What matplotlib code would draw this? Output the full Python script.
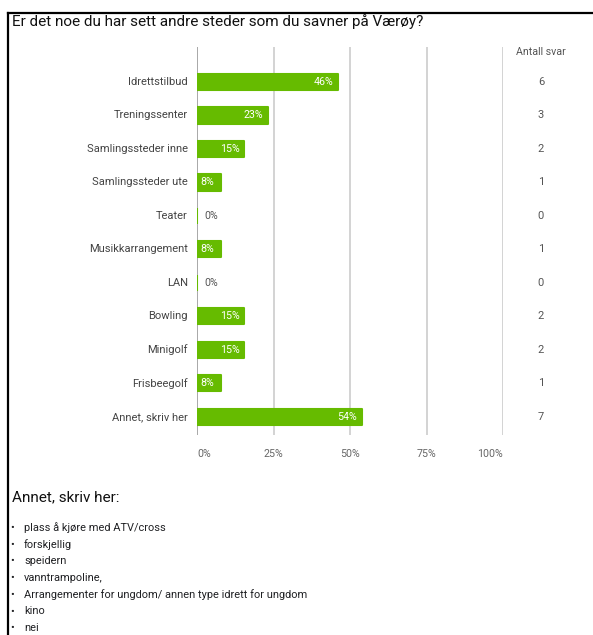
import matplotlib.pyplot as plt
from matplotlib.lines import Line2D

categories = ["Idrettstilbud", "Treningssenter", "Samlingssteder inne", "Samlingssteder ute",
              "Teater", "Musikkarrangement", "LAN", "Bowling", "Minigolf", "Frisbeegolf",
              "Annet, skriv her"]
counts = [6, 3, 2, 1, 0, 1, 0, 2, 2, 1, 7]
total = 13
percent_ticks = [0, 25, 50, 75, 100]
tick_labels = ["0%", "25%", "50%", "75%", "100%"]
title = "Er det noe du har sett andre steder som du savner på Værøy?"
other_title = "Annet, skriv her:"
other_answers = ["plass å kjøre med ATV/cross", "forskjellig", "speidern", "vanntrampoline,",
                 "Arrangementer for ungdom/ annen type idrett for ungdom", "kino", "nei"]

plt.rcParams['font.family'] = ['Roboto', 'DejaVu Sans']
green = '#66bb00'

W, H = 593, 635
fig = plt.figure(figsize=(W / 100, H / 100), dpi=100)

# axes placed in pixel terms
left, right, top, bottom = 197, 503, 47, 435
ax = fig.add_axes([left / W, 1 - bottom / H, (right - left) / W, (bottom - top) / H])

pct = [c / total * 100 for c in counts]
y = list(range(len(categories)))
ax.barh(y, pct, height=0.48, color=green, edgecolor=green, linewidth=1.5,
        joinstyle='round', zorder=3)

ax.set_xlim(0, 100)
ax.set_ylim(10.54, -1.045)
for s in ax.spines.values():
    s.set_visible(False)
ax.set_yticks([])
ax.set_xticks(percent_ticks)
ax.set_xticklabels(tick_labels, fontsize=7.7, color='#666666')
ax.tick_params(axis='x', length=0, pad=10)
labs = ax.get_xticklabels()
labs[0].set_ha('left')
labs[-1].set_ha('right')
for xv in percent_ticks:
    ax.axvline(xv, color='#999999' if xv == 0 else '#cccccc', lw=1.2, zorder=1)

for yi, (name, p, c) in enumerate(zip(categories, pct, counts)):
    ax.text(-3, yi, name, ha='right', va='center', fontsize=8, color='#444444')
    label = f"{round(p)}%"
    if c == 0:
        ax.text(2.3, yi, label, ha='left', va='center', fontsize=7.7, color='#555555', zorder=4)
    elif p < 12:
        ax.text(1.2, yi, label, ha='left', va='center', fontsize=7.7, color='white', zorder=4)
    else:
        ax.text(p - 1.5, yi, label, ha='right', va='center', fontsize=7.7, color='white', zorder=4)
    ax.text(112.4, yi, str(c), ha='center', va='center', fontsize=8, color='#555555', clip_on=False)

ax.text(112.4, -0.9, "Antall svar", ha='center', va='center', fontsize=7.7, color='#555555')

fig.text(12 / W, 1 - 22 / H, title, ha='left', va='center', fontsize=11, color='#111111')
fig.text(12 / W, 1 - 497 / H, other_title, ha='left', va='center', fontsize=11, color='#111111')
for i, ans in enumerate(other_answers):
    yy = 1 - (528 + i * 16.7) / H
    fig.text(10 / W, yy, "•", ha='left', va='center', fontsize=8, color='#202124')
    fig.text(24 / W, yy, ans, ha='left', va='center', fontsize=7.9, color='#202124')

# frame lines of the screenshot
fig.add_artist(Line2D([7.5 / W, 1], [1 - 12.5 / H, 1 - 12.5 / H], color='black', lw=1.6))
fig.add_artist(Line2D([7.5 / W, 7.5 / W], [0, 1 - 12.5 / H], color='black', lw=1.6))

fig.savefig('out.png', dpi=100)
